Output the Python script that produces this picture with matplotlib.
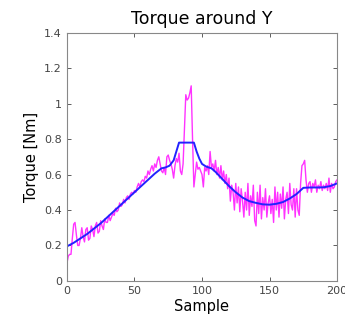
import numpy as np
import matplotlib
matplotlib.use("Agg")
import matplotlib.pyplot as plt

# measured torque (magenta), one value per sample 0..200
torque = [
    0.10, 0.14, 0.15, 0.15, 0.24, 0.32, 0.33, 0.26, 0.20, 0.20,
    0.24, 0.30, 0.25, 0.22, 0.29, 0.30, 0.23, 0.24, 0.31, 0.29,
    0.25, 0.31, 0.33, 0.27, 0.28, 0.34, 0.31, 0.29, 0.35, 0.33,
    0.33, 0.37, 0.34, 0.36, 0.38, 0.37, 0.41, 0.39, 0.40, 0.44,
    0.42, 0.43, 0.46, 0.44, 0.47, 0.48, 0.46, 0.49, 0.50, 0.49,
    0.51, 0.50, 0.53, 0.55, 0.53, 0.56, 0.57, 0.56, 0.59, 0.58,
    0.62, 0.60, 0.63, 0.65, 0.62, 0.66, 0.64, 0.68, 0.70, 0.66,
    0.62, 0.61, 0.64, 0.60, 0.70, 0.71, 0.68, 0.66, 0.63, 0.58,
    0.65, 0.69, 0.67, 0.72, 0.62, 0.60, 0.66, 0.85, 1.05, 1.02,
    1.03, 1.06, 1.10, 0.80, 0.53, 0.60, 0.67, 0.63, 0.64, 0.62,
    0.60, 0.53, 0.64, 0.62, 0.65, 0.60, 0.73, 0.64, 0.66, 0.62,
    0.68, 0.60, 0.64, 0.58, 0.65, 0.57, 0.62, 0.55, 0.60, 0.52,
    0.58, 0.45, 0.54, 0.50, 0.40, 0.55, 0.44, 0.53, 0.39, 0.52,
    0.45, 0.36, 0.50, 0.40, 0.55, 0.37, 0.48, 0.42, 0.54, 0.34,
    0.31, 0.50, 0.38, 0.54, 0.35, 0.47, 0.40, 0.52, 0.36, 0.44,
    0.48, 0.38, 0.46, 0.33, 0.53, 0.40, 0.50, 0.36, 0.49, 0.41,
    0.53, 0.35, 0.46, 0.50, 0.38, 0.55, 0.43, 0.40, 0.52, 0.36,
    0.52, 0.40, 0.37, 0.55, 0.65, 0.66, 0.68, 0.57, 0.50, 0.55,
    0.56, 0.50, 0.55, 0.53, 0.57, 0.50, 0.54, 0.52, 0.56, 0.51,
    0.54, 0.52, 0.55, 0.51, 0.58, 0.50, 0.55, 0.52, 0.53, 0.56,
    0.57,
]
samples = np.arange(len(torque))

# filtered torque (blue)
smooth_x = [0, 5, 10, 15, 20, 25, 30, 35, 40, 45, 50, 55, 60, 65, 70, 73, 76,
            79, 81, 83, 94, 96, 98, 100, 103, 107, 110, 115, 120, 125, 130,
            135, 140, 145, 150, 155, 160, 165, 170, 175, 180, 185, 190, 195, 200]
smooth_y = [0.195, 0.215, 0.24, 0.265, 0.295, 0.325, 0.36, 0.395, 0.43, 0.465,
            0.50, 0.535, 0.57, 0.605, 0.635, 0.64, 0.65, 0.68, 0.73, 0.78,
            0.78, 0.73, 0.69, 0.66, 0.645, 0.635, 0.615, 0.575, 0.535, 0.50,
            0.47, 0.45, 0.44, 0.432, 0.43, 0.435, 0.445, 0.465, 0.49, 0.525,
            0.527, 0.527, 0.528, 0.535, 0.55]

yticks = [0, 0.2, 0.4, 0.6, 0.8, 1, 1.2, 1.4]
ytick_labels = ["0", "0.2", "0.4", "0.6", "0.8", "1", "1.2", "1.4"]

fig = plt.figure(figsize=(3.45, 3.2), dpi=100)
ax = fig.add_axes([0.194, 0.122, 0.783, 0.776])

ax.plot(samples, torque, color="#ff33ff", lw=1.0)
ax.plot(smooth_x, smooth_y, color="#2222ff", lw=1.4)

ax.set_xlim(0, 200)
ax.set_ylim(0, 1.4)
ax.set_xticks([0, 50, 100, 150, 200])
ax.set_yticks(yticks)
ax.set_yticklabels(ytick_labels)
ax.tick_params(direction="in", top=True, right=True, labelsize=8,
               colors="#444444", length=3, width=0.6)
for s in ax.spines.values():
    s.set_color("#888888")
    s.set_linewidth(0.8)

ax.set_title("Torque around Y", fontsize=12.5, pad=6)
ax.set_xlabel("Sample", fontsize=10.5, labelpad=2)
ax.set_ylabel("Torque [Nm]", fontsize=10.5, labelpad=4)

fig.savefig("out.png", dpi=100)
